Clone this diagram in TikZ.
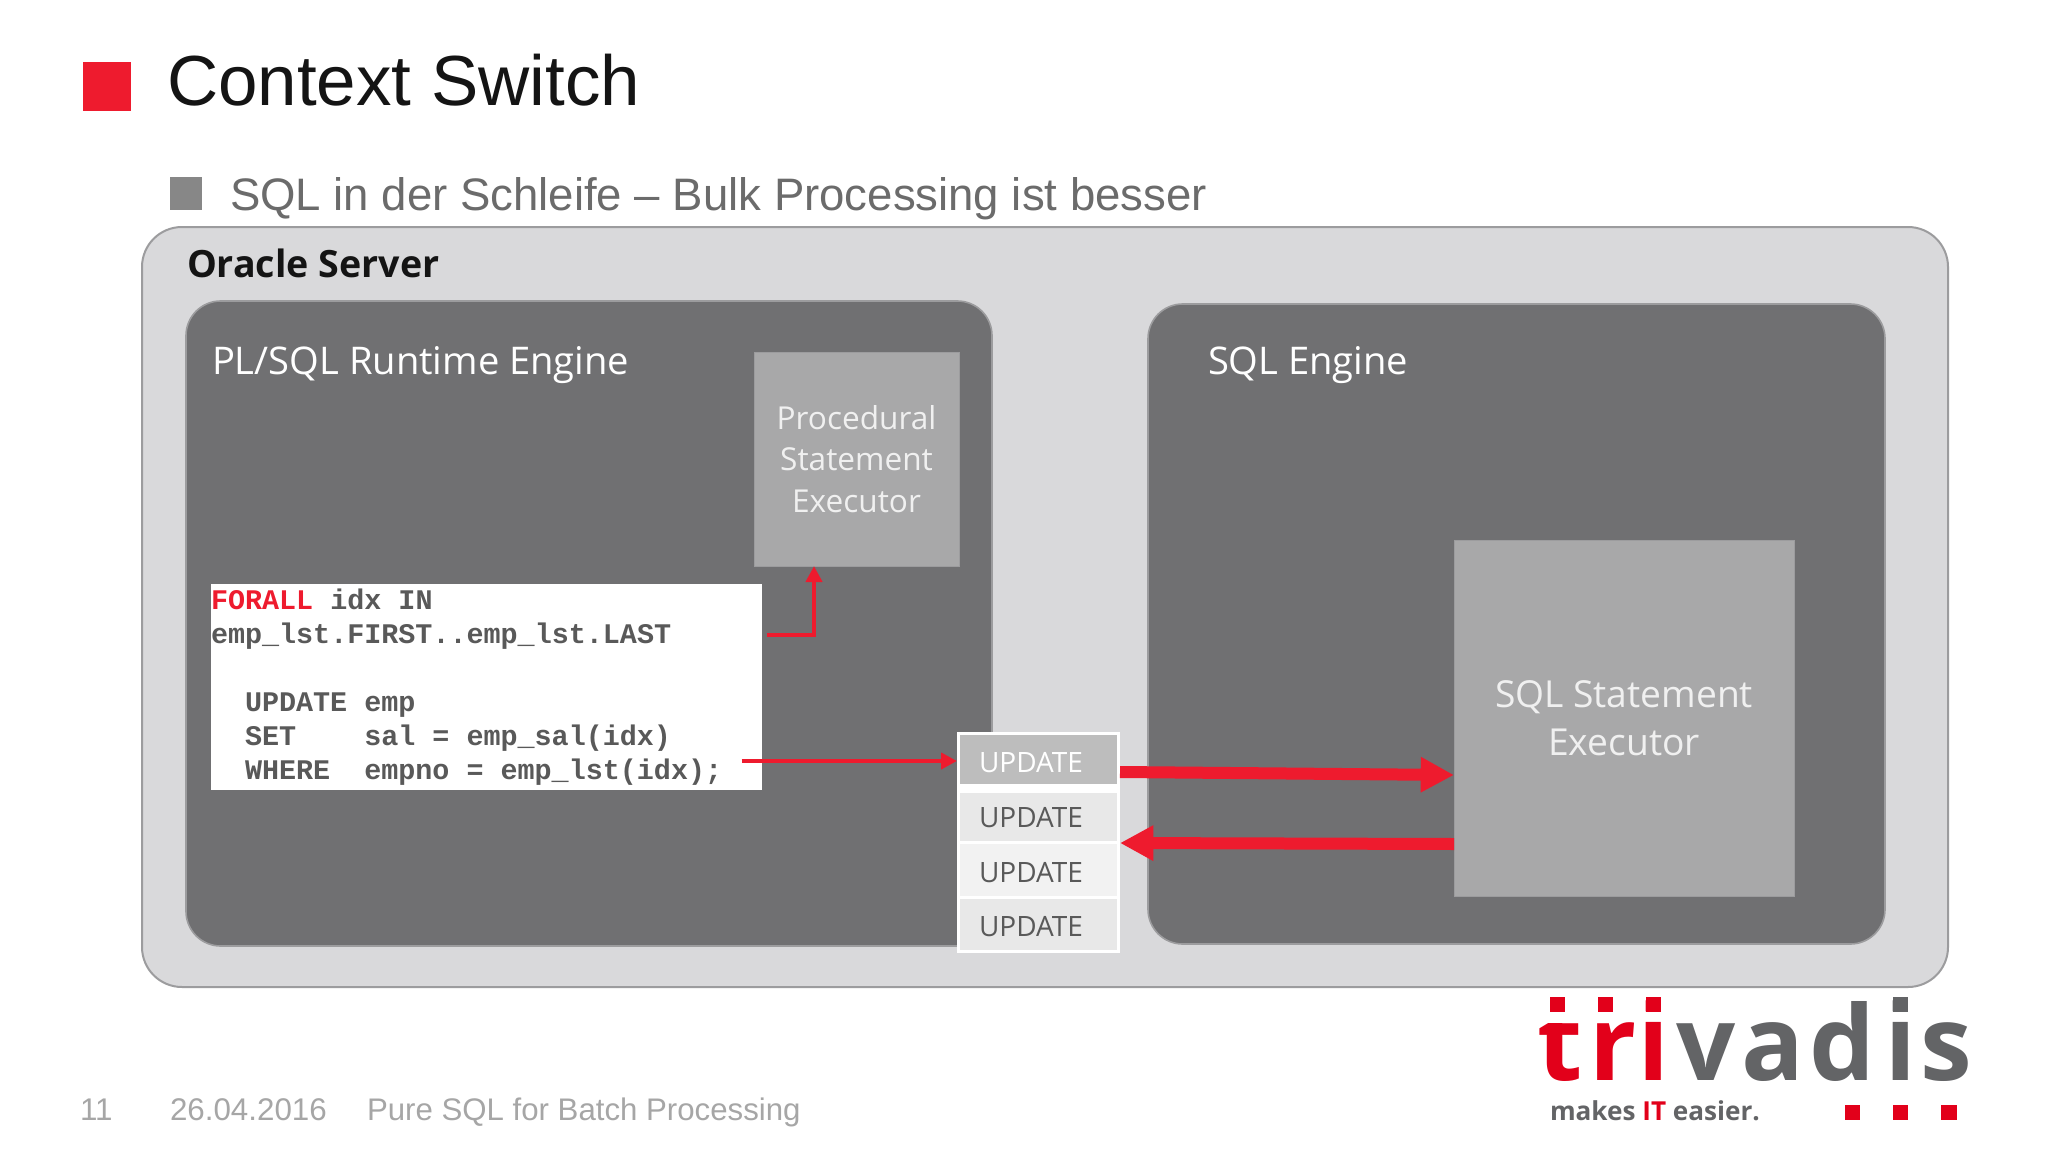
\documentclass[tikz,border=0pt]{standalone}
\usepackage{fontspec}
\usetikzlibrary{arrows.meta,calc}
\setmainfont{Open Sans}
\newfontfamily\arialf{Liberation Sans}
\newfontfamily\monof{Liberation Mono}
\newfontfamily\logof{Open Sans}
\newcommand{\fsz}[2]{\fontsize{#1pt}{#2pt}\selectfont}
\definecolor{oraclered}{HTML}{EE1B2E}
\definecolor{logored}{HTML}{E2001A}
\definecolor{logogrey}{HTML}{636466}
\definecolor{outerfill}{HTML}{D9D9DB}
\definecolor{outerline}{HTML}{9C9C9E}
\definecolor{enginefill}{HTML}{707072}
\definecolor{innerfill}{HTML}{A8A8A9}
\definecolor{codegrey}{HTML}{595959}
\tikzset{
  spanbox/.style n args={4}{minimum width={(#3-#1)*0.75pt}, minimum height={(#4-#2)*0.75pt},
    at={({(#1+#3)/2},{(#2+#4)/2})}},
  plainbox/.style={inner sep=0pt, outer sep=0pt},
  labeltext/.style={inner sep=0pt, outer sep=0pt, anchor=base west},
  outerbox/.style={plainbox, draw=outerline, line width=1.5pt, fill=outerfill, rounded corners=30pt},
  enginebox/.style={plainbox, draw=outerline, line width=1.2pt, fill=enginefill, rounded corners=26pt},
  innerbox/.style={plainbox, fill=innerfill, draw=outerline, line width=.6pt, text=white!94!black, align=center},
  cellbox/.style={plainbox, fill=#1},
  codeline/.style={labeltext, font=\monof\bfseries\fsz{21.3}{26}, text=codegrey},
  updatetext/.style={labeltext, font=\fsz{21}{26}},
  thinarrow/.style={draw=oraclered, line width=3pt, -{Triangle[length=12pt,width=12pt]}},
  thickarrow/.style={draw=oraclered, line width=9pt, -{Triangle[length=25pt,width=25pt]}},
  logoletter/.style={labeltext, font=\logof\bfseries\fsz{78}{90}},
  logoi/.style={labeltext, font=\arialf\bfseries\fsz{82.5}{90}},
  logosq/.style={plainbox, fill=logored},
}
\begin{document}
\begin{tikzpicture}[x=0.75pt,y=-0.75pt]
\useasboundingbox (0,0) rectangle (2048,1152);
\fill[white] (0,0) rectangle (2048,1152);
% heading
\node[plainbox, fill=oraclered, spanbox={83}{62}{131}{111}] (titlesq) {};
\node[labeltext, font=\arialf\fsz{53.2}{60}, text=black!92] (title) at (167,106) {Context Switch};
\node[plainbox, fill=black!47, spanbox={170}{177}{202}{210}] (subsq) {};
\node[labeltext, font=\arialf\fsz{34.15}{40}, text=black!58] (subtitle) at (230,210) {SQL in der Schleife – Bulk Processing ist besser};
% containers
\node[outerbox, spanbox={142}{227}{1948}{987}] (server) {};
\node[labeltext, font=\bfseries\fsz{28.2}{32}, text=black!92] (serverlabel) at (187,277) {Oracle Server};
\node[enginebox, spanbox={186}{301}{992}{946}] (plsql) {};
\node[enginebox, spanbox={1148}{304}{1885}{944}] (sqleng) {};
\node[labeltext, font=\fsz{28.6}{34}, text=white] (plsqllabel) at (212,374) {PL/SQL Runtime Engine};
\node[labeltext, font=\fsz{28.6}{34}, text=white] (sqllabel) at (1208,374) {SQL Engine};
\node[innerbox, font=\fsz{23.7}{31}, spanbox={754}{352}{959}{566}] (proc) {Procedural\\Statement\\Executor};
\node[innerbox, font=\fsz{27.9}{35.7}, spanbox={1454}{540}{1794}{896}] (sqlexec) {SQL Statement\\Executor};
% code
\node[plainbox, fill=white, spanbox={211}{584}{762}{790}] (code) {};
\node[codeline] (l1) at (211,609) {\textcolor{oraclered}{FORALL} idx IN};
\node[codeline] (l2) at (211,643) {emp\_lst.FIRST..emp\_lst.LAST};
\node[codeline] (l3) at (245,711) {UPDATE emp};
\node[codeline] (l4) at (245,745) {SET~~~~sal = emp\_sal(idx)};
\node[codeline] (l5) at (245,779) {WHERE~~empno = emp\_lst(idx);};
% update stack
\node[plainbox, fill=white, spanbox={957}{732}{1120}{953}] (stack) {};
\node[cellbox=black!26, spanbox={960}{735}{1117}{784}] (c1) {};
\node[cellbox=black!9, spanbox={960}{793}{1117}{841}] (c2) {};
\node[cellbox=black!5, spanbox={960}{844}{1117}{896}] (c3) {};
\node[cellbox=black!9, spanbox={960}{899}{1117}{950}] (c4) {};
\node[updatetext, text=white] (u1) at (979,772) {UPDATE};
\node[updatetext, text=codegrey] (u2) at (979,827) {UPDATE};
\node[updatetext, text=codegrey] (u3) at (979,882) {UPDATE};
\node[updatetext, text=codegrey] (u4) at (979,936) {UPDATE};
% connectors
\coordinate (a1s) at (767,635);
\coordinate (a1k) at (814,635);
\draw[thinarrow] (a1s) -- (a1k) -- (a1k |- proc.south);
\coordinate (a2s) at (741.5,761);
\draw[thinarrow] (a2s) -- (a2s -| stack.west);
\coordinate (a3s) at (1120,772);
\coordinate (a3e) at (1454,775);
\draw[thickarrow] (a3s) -- (a3e);
\coordinate (a4s) at (1454,844);
\coordinate (a4e) at (1120,843);
\draw[thickarrow] (a4s) -- (a4e);
% footer
\node[labeltext, font=\arialf\fsz{23.5}{28}, text=black!35] (pageno) at (80,1120) {11};
\node[labeltext, font=\arialf\fsz{23.5}{28}, text=black!35] (date) at (170,1120) {26.04.2016};
\node[labeltext, font=\arialf\fsz{23.4}{28}, text=black!35] (foot) at (367,1120) {Pure SQL for Batch Processing};
% logo
\begin{scope}
\clip (1530,1023) rectangle (1590,1090);
\node[logoletter, text=logored] (lt) at (1537,1080) {t};
\end{scope}
\node[logosq, spanbox={1550}{997}{1565}{1012}] (ds1) {};
\node[logosq, spanbox={1598}{997}{1613}{1012}] (ds2) {};
\node[logosq, spanbox={1646}{997}{1661}{1012}] (ds3) {};
\node[logosq, spanbox={1893}{997}{1908}{1012}, fill=logogrey] (ds4) {};
\node[logoletter, text=logored] (lr) at (1589,1080) {r};
\node[logoi, text=logored] (li) at (1638,1080) {i};
\node[logoletter, text=logogrey] (lv) at (1676,1080) {v};
\node[logoletter, text=logogrey] (la) at (1741,1080) {a};
\node[logoletter, text=logogrey] (ld) at (1809,1080) {d};
\node[logoi, text=logogrey] (li2) at (1885,1080) {i};
\node[logoletter, text=logogrey] (ls) at (1920,1080) {s};
\node[labeltext, font=\bfseries\fsz{19.6}{24}, text=logogrey] (slogan) at (1550,1120) {makes \textcolor{logored}{IT} easier.};
\node[logosq, spanbox={1845}{1105}{1860}{1120}] (bs1) {};
\node[logosq, spanbox={1893}{1105}{1908}{1120}] (bs2) {};
\node[logosq, spanbox={1941}{1105}{1957}{1120}] (bs3) {};
\end{tikzpicture}
\end{document}
